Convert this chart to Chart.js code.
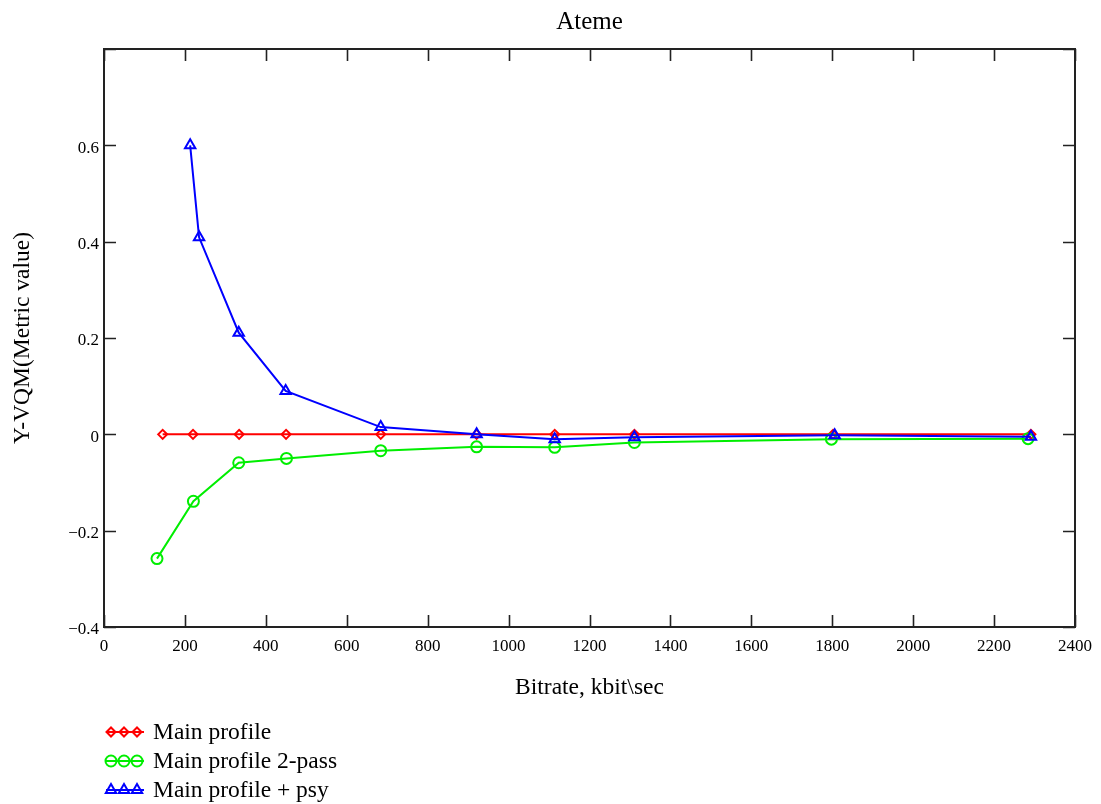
<!DOCTYPE html>
<html>
<head>
<meta charset="utf-8">
<script src="https://cdn.jsdelivr.net/npm/chart.js@4/dist/chart.umd.min.js"></script>
<style>
  html, body { margin: 0; padding: 0; background: #fff; }
  #wrap { width: 1101px; height: 804px; }
</style>
</head>
<body>
<div id="wrap"><canvas id="c" width="1101" height="804"></canvas></div>
<script>
// ---- data ----
const chartTitle = 'Ateme';
const xTitle = 'Bitrate, kbit\\sec';
const yTitle = 'Y-VQM(Metric value)';

const seriesNames = ['Main profile', 'Main profile 2-pass', 'Main profile + psy'];

const xMain = [145, 220, 334, 450, 684, 921, 1114, 1311, 1802, 2291];
const yMain = [0, 0, 0, 0, 0, 0, 0, 0, 0, 0];

const x2pass = [131, 221, 333, 451, 684, 921, 1114, 1311, 1798, 2284];
const y2pass = [-0.258, -0.139, -0.059, -0.050, -0.034, -0.026, -0.027, -0.017, -0.010, -0.009];

const xPsy = [213, 235, 333, 449, 684, 921, 1114, 1311, 1806, 2291];
const yPsy = [0.600, 0.409, 0.211, 0.090, 0.015, 0.000, -0.010, -0.006, -0.002, -0.005];

const xTickLabels = ['0','200','400','600','800','1000','1200','1400','1600','1800','2000','2200','2400'];
const yTickLabels = ['\u22120.4','\u22120.2','0','0.2','0.4','0.6',''];

// ---- styling ----
const FONT = "'Liberation Serif', 'Times New Roman', serif";
const FRAME = '#222';

function pts(xs, ys) { return xs.map((x, i) => ({ x: x, y: ys[i] })); }

const datasets = [
  { label: seriesNames[0], data: pts(xMain, yMain), borderColor: '#ff0000', pointStyle: 'rectRot', pointRadius: 4.5, order: 3 },
  { label: seriesNames[1], data: pts(x2pass, y2pass), borderColor: '#00ee00', pointStyle: 'circle', pointRadius: 5.5, order: 2 },
  { label: seriesNames[2], data: pts(xPsy, yPsy), borderColor: '#0000ff', pointStyle: 'triangle', pointRadius: 6, order: 1 }
].map(d => Object.assign(d, {
  borderWidth: 2,
  pointBorderColor: d.borderColor,
  pointBackgroundColor: 'rgba(0,0,0,0)',
  pointBorderWidth: 2,
  pointHoverRadius: d.pointRadius,
  tension: 0,
  fill: false
}));

// frame + inward tick marks on all four sides, from the library's scales
const framePlugin = {
  id: 'frame',
  afterDatasetsDraw(chart) {
    const { ctx, chartArea: a, scales } = chart;
    ctx.save();
    ctx.strokeStyle = FRAME;
    ctx.lineWidth = 1.6;
    const L = 12;
    ctx.beginPath();
    scales.x.ticks.forEach(t => {
      const px = Math.round(scales.x.getPixelForValue(t.value)) + 0.5;
      ctx.moveTo(px, a.bottom); ctx.lineTo(px, a.bottom - L);
      ctx.moveTo(px, a.top); ctx.lineTo(px, a.top + L);
    });
    scales.y.ticks.forEach(t => {
      const py = Math.round(scales.y.getPixelForValue(t.value)) + 0.5;
      ctx.moveTo(a.left, py); ctx.lineTo(a.left + L, py);
      ctx.moveTo(a.right, py); ctx.lineTo(a.right - L, py);
    });
    ctx.stroke();
    ctx.lineWidth = 2;
    ctx.strokeRect(a.left, a.top, a.right - a.left, a.bottom - a.top);
    ctx.restore();
  }
};

function drawMarker(ctx, style, r, x, y) {
  if (Chart.helpers && Chart.helpers.drawPoint) {
    Chart.helpers.drawPoint(ctx, { pointStyle: style, radius: r, rotation: 0, borderWidth: 2 }, x, y);
    return;
  }
  ctx.beginPath();
  if (style === 'circle') ctx.arc(x, y, r, 0, Math.PI * 2);
  else if (style === 'rectRot') { ctx.moveTo(x - r, y); ctx.lineTo(x, y - r); ctx.lineTo(x + r, y); ctx.lineTo(x, y + r); ctx.closePath(); }
  else { ctx.moveTo(x, y - r); ctx.lineTo(x + r * 0.866, y + r / 2); ctx.lineTo(x - r * 0.866, y + r / 2); ctx.closePath(); }
  ctx.stroke();
}

// legend with three markers on a line, below the chart
const legendPlugin = {
  id: 'lineLegend',
  afterDraw(chart) {
    const { ctx } = chart;
    const rows = [732, 761, 790];
    ctx.save();
    chart.data.datasets.forEach((ds, i) => {
      const y = rows[i];
      ctx.strokeStyle = ds.borderColor;
      ctx.fillStyle = 'rgba(0,0,0,0)';
      ctx.lineWidth = 2;
      ctx.beginPath(); ctx.moveTo(106, y); ctx.lineTo(144, y); ctx.stroke();
      ctx.lineWidth = 2;
      [111, 124, 137].forEach(mx => {
        ctx.strokeStyle = ds.borderColor;
        ctx.fillStyle = 'rgba(0,0,0,0)';
        drawMarker(ctx, ds.pointStyle, ds.pointRadius, mx, y);
      });
      ctx.fillStyle = '#000';
      ctx.font = '23.5px ' + FONT;
      ctx.textAlign = 'left';
      ctx.textBaseline = 'middle';
      ctx.fillText(ds.label, 153, y + 1);
    });
    ctx.restore();
  }
};

new Chart(document.getElementById('c'), {
  type: 'line',
  data: { datasets: datasets },
  plugins: [framePlugin, legendPlugin],
  options: {
    responsive: false,
    animation: false,
    layout: { padding: { left: 0, right: 25, top: 0, bottom: 102 } },
    plugins: { legend: { display: false }, title: { display: false }, tooltip: { enabled: false } },
    scales: {
      x: {
        type: 'linear', position: 'bottom', min: 0, max: 2400,
        grid: { display: false, drawTicks: false },
        border: { display: false },
        ticks: { stepSize: 200, autoSkip: false, maxRotation: 0, padding: 9, color: '#000',
                 font: { family: FONT, size: 17 }, callback: (v, i) => xTickLabels[i] },
        title: { display: true, text: xTitle, color: '#000', font: { family: FONT, size: 23.5 }, padding: { top: 0, bottom: 0 } },
        afterFit: s => { s.height = 75; }
      },
      xTop: {
        type: 'linear', position: 'top', min: 0, max: 2400,
        grid: { display: false, drawTicks: false },
        border: { display: false },
        ticks: { display: false },
        title: { display: true, text: chartTitle, color: '#000', font: { family: FONT, size: 25 }, padding: { top: 7, bottom: 0 } },
        afterFit: s => { s.height = 49; }
      },
      y: {
        type: 'linear', position: 'left', min: -0.4, max: 0.8,
        grid: { display: false, drawTicks: false },
        border: { display: false },
        ticks: { stepSize: 0.2, padding: 5, labelOffset: 3, color: '#000',
                 font: { family: FONT, size: 17 }, callback: (v, i) => yTickLabels[i] },
        title: { display: true, text: yTitle, color: '#000', font: { family: FONT, size: 23.5 }, padding: { top: 9, bottom: 0 } },
        afterFit: s => { s.width = 104; }
      }
    }
  }
});
</script>
</body>
</html>
